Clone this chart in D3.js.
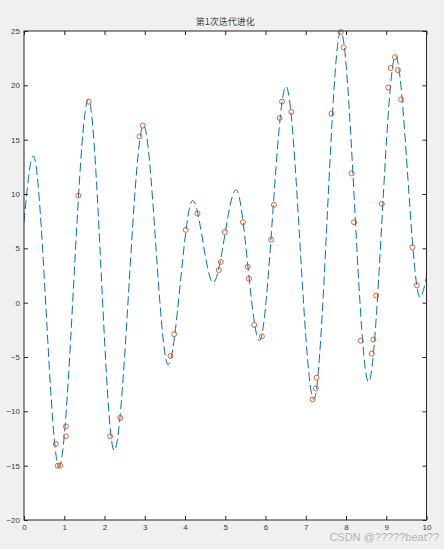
<!DOCTYPE html>
<html>
<head>
<meta charset="utf-8">
<script src="https://cdn.jsdelivr.net/npm/d3@7"></script>
<style>
  body { margin: 0; background: #f0f0f0; }
  .axis text { font-family: "Liberation Sans", Arial, sans-serif; font-size: 8px; fill: #404040; }
  .axis line { stroke: #262626; }
</style>
</head>
<body>
<script>
var width = 444;
var height = 549;

// curve (turning points of the dashed line)
var curveX = [0, 0.23, 0.87, 1.6, 2.24, 2.97, 3.58, 4.19, 4.70, 5.27, 5.85, 6.51, 7.2, 7.87, 8.56, 9.23, 9.84, 10];
var curveY = [7.4, 13.5, -15.1, 18.7, -13.6, 16.3, -5.7, 9.4, 1.85, 10.4, -3.5, 19.9, -8.9, 25.0, -7.3, 22.7, 0.5, 2.4];

// population markers
var pointX = [0.79, 0.84, 0.90, 1.04, 1.04, 1.35, 1.61, 2.14, 2.39, 2.87, 2.95, 3.64, 3.73,
  4.02, 4.31, 4.84, 4.89, 4.99, 5.44, 5.56, 5.59, 5.72, 5.91, 6.14, 6.21, 6.35, 6.41, 6.64,
  7.17, 7.25, 7.27, 7.64, 7.87, 7.94, 8.14, 8.2, 8.37, 8.64, 8.68, 8.75, 8.89,
  9.05, 9.11, 9.22, 9.29, 9.37, 9.65, 9.76];
var pointY = [-13.0, -15.0, -15.0, -11.4, -12.3, 9.85, 18.5, -12.3, -10.6, 15.3, 16.3, -4.9, -2.9,
  6.7, 8.2, 3.0, 3.75, 6.5, 7.4, 3.3, 2.2, -2.05, -3.1, 5.8, 9.0, 17.0, 18.5, 17.55,
  -8.9, -7.9, -6.9, 17.4, 24.9, 23.5, 11.9, 7.4, -3.5, -4.7, -3.4, 0.65, 9.1,
  19.8, 21.6, 22.6, 21.4, 18.7, 5.1, 1.6];

var xTicks = [0, 1, 2, 3, 4, 5, 6, 7, 8, 9, 10];
var yTicks = [-20, -15, -10, -5, 0, 5, 10, 15, 20, 25];

var plotLeft = 24, plotRight = 426.5, plotTop = 31, plotBottom = 520;

var x = d3.scaleLinear().domain([0, 10]).range([plotLeft, plotRight]);
var y = d3.scaleLinear().domain([-20, 25]).range([plotBottom, plotTop]);

var svg = d3.select("body").append("svg")
  .attr("width", width)
  .attr("height", height)
  .style("display", "block");

svg.append("rect").attr("width", width).attr("height", height).attr("fill", "#f0f0f0");
svg.append("rect")
  .attr("x", plotLeft).attr("y", plotTop)
  .attr("width", plotRight - plotLeft).attr("height", plotBottom - plotTop)
  .attr("fill", "#ffffff");

// clip for the curve
svg.append("clipPath").attr("id", "plotclip")
  .append("rect").attr("x", plotLeft).attr("y", plotTop - 1)
  .attr("width", plotRight - plotLeft).attr("height", plotBottom - plotTop + 1);

var line = d3.line()
  .x(function (d) { return x(d[0]); })
  .y(function (d) { return y(d[1]); })
  .curve(d3.curveMonotoneX);

var curveData = curveX.map(function (v, i) { return [v, curveY[i]]; });

svg.append("path")
  .datum(curveData)
  .attr("clip-path", "url(#plotclip)")
  .attr("d", line)
  .attr("fill", "none")
  .attr("stroke", "#0072BD")
  .attr("stroke-width", 1)
  .attr("stroke-dasharray", "9,4");

svg.append("g").selectAll("circle")
  .data(pointX)
  .enter()
  .append("circle")
  .attr("cx", function (d) { return x(d); })
  .attr("cy", function (d, i) { return y(pointY[i]); })
  .attr("r", 2.5)
  .attr("fill", "none")
  .attr("stroke", "#D95319")
  .attr("stroke-width", 0.9);

// axes, ticks pointing inward (matlab style)
var gx = svg.append("g").attr("class", "axis")
  .attr("transform", "translate(0," + plotBottom + ")")
  .call(d3.axisBottom(x).tickValues(xTicks).tickSize(-4).tickPadding(4));
var gy = svg.append("g").attr("class", "axis")
  .attr("transform", "translate(" + plotLeft + ",0)")
  .call(d3.axisLeft(y).tickValues(yTicks).tickSize(-4).tickPadding(4));
var gt = svg.append("g").attr("class", "axis")
  .attr("transform", "translate(0," + plotTop + ")")
  .call(d3.axisTop(x).tickValues(xTicks).tickSize(-4).tickFormat(""));
var gr = svg.append("g").attr("class", "axis")
  .attr("transform", "translate(" + plotRight + ",0)")
  .call(d3.axisRight(y).tickValues(yTicks).tickSize(-4).tickFormat(""));

[gx, gy, gt, gr].forEach(function (g) { g.select(".domain").remove(); });

svg.append("rect")
  .attr("x", plotLeft).attr("y", plotTop)
  .attr("width", plotRight - plotLeft).attr("height", plotBottom - plotTop)
  .attr("fill", "none")
  .attr("stroke", "#262626")
  .attr("stroke-width", 1);

svg.append("text")
  .attr("x", (plotLeft + plotRight) / 2)
  .attr("y", 25)
  .attr("text-anchor", "middle")
  .style("font-family", "'Noto Sans CJK SC', sans-serif")
  .style("font-size", "9px")
  .style("fill", "#404040")
  .text("第1次迭代进化");

svg.append("text")
  .attr("x", 439)
  .attr("y", 541)
  .attr("text-anchor", "end")
  .style("font-family", "'Liberation Sans', Arial, sans-serif")
  .style("font-size", "11px")
  .style("fill", "#b4b4b4")
  .text("CSDN @?????beat??");
</script>
</body>
</html>
